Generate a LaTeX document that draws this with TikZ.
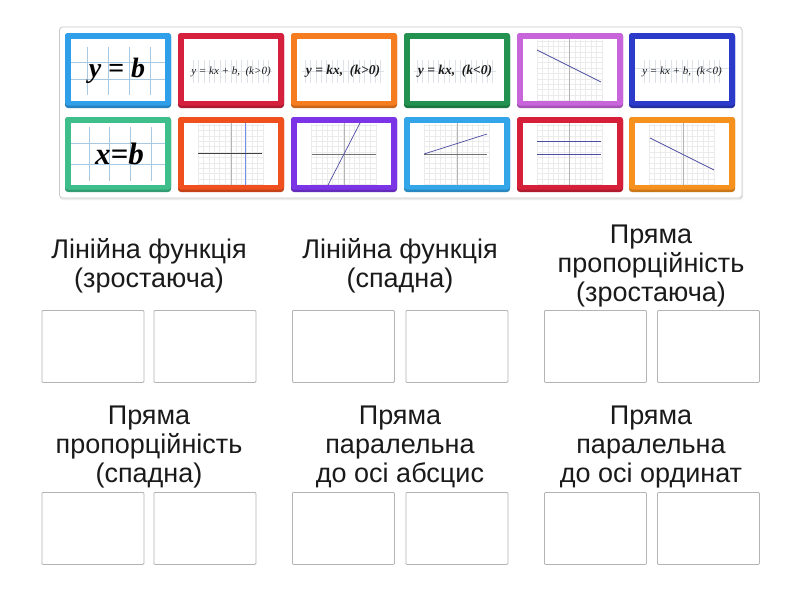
\documentclass[tikz,border=0pt]{standalone}
\usepackage{fontspec}
\setmainfont{Liberation Sans}
\newfontfamily\formfont{Liberation Serif}
\definecolor{cA}{HTML}{2E9FE8}
\definecolor{cB}{HTML}{D6213E}
\definecolor{cC}{HTML}{F57C1F}
\definecolor{cD}{HTML}{23914F}
\definecolor{cE}{HTML}{C965DB}
\definecolor{cF}{HTML}{2B3AC8}
\definecolor{cG}{HTML}{3DBE8B}
\definecolor{cH}{HTML}{F0501E}
\definecolor{cI}{HTML}{7B35E6}
\definecolor{cJ}{HTML}{33A6EA}
\definecolor{cK}{HTML}{D62039}
\definecolor{cL}{HTML}{F7911E}
\definecolor{panelgray}{HTML}{C8C8C8}
\definecolor{boxgray}{HTML}{B4B4B4}
\definecolor{textc}{HTML}{1A1A1A}
\definecolor{gridc}{HTML}{EBEBEB}
\definecolor{axisc}{HTML}{B4B4B4}
\definecolor{linec}{HTML}{4C4CA0}
\definecolor{fgridc}{HTML}{DDE2E8}
\definecolor{bluegc}{HTML}{A9C9E2}
\tikzset{
  panel/.style={draw=panelgray, line width=0.8pt, fill=white, rounded corners=3pt},
  dropbox/.style={draw=boxgray, line width=0.8pt, fill=white, rounded corners=1pt,
    minimum width=102pt, minimum height=72pt, anchor=north west, inner sep=0pt},
  lbl/.style={font=\fontsize{27}{29}\selectfont, align=center, text=textc, anchor=base, inner sep=0pt},
  gridl/.style={draw=gridc, line width=0.4pt},
  axisl/.style={draw=axisc, line width=1pt},
  graphl/.style={draw=linec, line width=0.7pt},
  fgrid/.style={draw=fgridc, line width=0.35pt},
  blueg/.style={draw=bluegc, line width=0.8pt},
  bigform/.style={font=\formfont\bfseries\itshape\fontsize{28}{28}\selectfont, text=black, inner sep=0pt},
  midform/.style={font=\formfont\bfseries\itshape\fontsize{13.5}{14}\selectfont, text=textc, inner sep=0pt},
  smallform/.style={font=\formfont\itshape\fontsize{11}{12}\selectfont, text=textc, inner sep=0pt}
}
\newcommand\cardframe[1]{%
  \fill[#1!82!black, rounded corners=3pt] (0,0) rectangle (106,75);
  \fill[#1, rounded corners=3pt] (0,0) rectangle (106,72.5);
  \fill[white] (6,6) rectangle (100,68);
}
\newcommand\graphgrid{%
  \foreach \i in {0,...,12} \draw[gridl] (20+\i*5.4,7) -- (20+\i*5.4,68);
  \foreach \j in {0,...,11} \draw[gridl] (20,8+\j*5.4) -- (85,8+\j*5.4);
}
\newcommand\formgrid[1]{%
  \foreach \i in {0,...,14} \draw[fgrid] (#1+\i*5.4,27) -- (#1+\i*5.4,50);
  \draw[fgrid] (#1-3,38.5) -- (#1+79,38.5);
}
\begin{document}
\begin{tikzpicture}[x=1pt,y=-1pt,line join=round]
\useasboundingbox (0,0) rectangle (800,600);
\fill[white] (0,0) rectangle (800,600);
% panel
\fill[black!7, rounded corners=3pt] (60,28.5) rectangle (743,200);
\draw[panel] (59.5,27) rectangle (742,198);
% ---------- row 1 ----------
\begin{scope}[shift={(65,33)}]
  \cardframe{cA}
  \foreach \x in {22,43,64,85} \draw[blueg] (\x,14) -- (\x,62);
  \draw[blueg] (6,29) -- (100,29);
  \draw[blueg] (6,46) -- (100,46);
  \node[bigform] (f1) at (52,38) {y = b};
\end{scope}
\begin{scope}[shift={(178,33)}]
  \cardframe{cB}
  \formgrid{15}
  \node[smallform] (f2) at (53,39) {y = kx + b,\ \ (k>0)};
\end{scope}
\begin{scope}[shift={(291,33)}]
  \cardframe{cC}
  \formgrid{14}
  \node[midform] (f3) at (52,38.5) {y = kx,\ \ (k>0)};
\end{scope}
\begin{scope}[shift={(404,33)}]
  \cardframe{cD}
  \formgrid{13}
  \node[midform] (f4) at (51,38.5) {y = kx,\ \ (k<0)};
\end{scope}
\begin{scope}[shift={(517,33)}]
  \cardframe{cE}
  \graphgrid
  \draw[axisl] (52,6) -- (52,68);
  \coordinate (g5a) at (20,17);
  \coordinate (g5b) at (84,49);
  \draw[graphl] (g5a) -- (g5b);
\end{scope}
\begin{scope}[shift={(629,33)}]
  \cardframe{cF}
  \formgrid{15}
  \draw[fgrid] (6,35) -- (100,35);
  \node[smallform] (f6) at (53,39) {y = kx + b,\ \ (k<0)};
\end{scope}
% ---------- row 2 ----------
\begin{scope}[shift={(65,117)}]
  \cardframe{cG}
  \foreach \x in {24,44,65,86} \draw[blueg] (\x,10) -- (\x,64);
  \draw[blueg] (6,26) -- (100,26);
  \draw[blueg] (6,47) -- (100,47);
  \node[bigform, font=\formfont\bfseries\itshape\fontsize{31}{31}\selectfont] (f7) at (54.5,37) {x=b};
\end{scope}
\begin{scope}[shift={(178,117)}]
  \cardframe{cH}
  \graphgrid
  \draw[axisl] (53,6) -- (53,68);
  \draw[draw=bluegc!70!blue, line width=0.8pt] (67,6) -- (67,68);
  \coordinate (g8a) at (20,36);
  \coordinate (g8b) at (84,36);
  \draw[draw=black!75, line width=0.7pt] (g8a) -- (g8b);
\end{scope}
\begin{scope}[shift={(291,117)}]
  \cardframe{cI}
  \graphgrid
  \draw[axisl] (53,6) -- (53,68);
  \draw[draw=black!55, line width=0.8pt] (21,37) -- (85,37);
  \coordinate (g9a) at (37,68);
  \coordinate (g9b) at (69,6);
  \draw[graphl] (g9a) -- (g9b);
\end{scope}
\begin{scope}[shift={(404,117)}]
  \cardframe{cJ}
  \graphgrid
  \draw[axisl] (53,6) -- (53,68);
  \draw[draw=black!55, line width=0.8pt] (20,37) -- (83,37);
  \coordinate (g10a) at (20,37);
  \coordinate (g10b) at (83,17);
  \draw[graphl] (g10a) -- (g10b);
\end{scope}
\begin{scope}[shift={(517,117)}]
  \cardframe{cK}
  \graphgrid
  \draw[axisl] (52,6) -- (52,68);
  \coordinate (g11a) at (20,24);
  \coordinate (g11b) at (84,24);
  \coordinate (g11c) at (20,37);
  \coordinate (g11d) at (84,37);
  \draw[graphl] (g11a) -- (g11b);
  \draw[graphl] (g11c) -- (g11d);
\end{scope}
\begin{scope}[shift={(629,117)}]
  \cardframe{cL}
  \graphgrid
  \draw[axisl] (54,6) -- (54,68);
  \coordinate (g12a) at (21,21);
  \coordinate (g12b) at (85,53);
  \draw[graphl] (g12a) -- (g12b);
\end{scope}
% ---------- drop boxes ----------
\node[dropbox] (b1a) at (41.5,310) {};
\node[dropbox] (b1b) at (153.5,310) {};
\node[dropbox] (b2a) at (292,310) {};
\node[dropbox] (b2b) at (405.5,310) {};
\node[dropbox] (b3a) at (544,310) {};
\node[dropbox] (b3b) at (657,310) {};
\node[dropbox] (b4a) at (41.5,492) {};
\node[dropbox] (b4b) at (153.5,492) {};
\node[dropbox] (b5a) at (292,492) {};
\node[dropbox] (b5b) at (405.5,492) {};
\node[dropbox] (b6a) at (544,492) {};
\node[dropbox] (b6b) at (657,492) {};
% ---------- labels (base = last line) ----------
\node[lbl] (l1) at (149,287) {Лінійна функція\\(зростаюча)};
\node[lbl] (l2) at (400,287) {Лінійна функція\\(спадна)};
\node[lbl] (l3) at (651,301.5) {Пряма\\пропорційність\\(зростаюча)};
\node[lbl] (l4) at (149,482) {Пряма\\пропорційність\\(спадна)};
\node[lbl] (l5) at (400,482) {Пряма\\паралельна\\до осі абсцис};
\node[lbl] (l6) at (651,482) {Пряма\\паралельна\\до осі ординат};
\end{tikzpicture}
\end{document}
